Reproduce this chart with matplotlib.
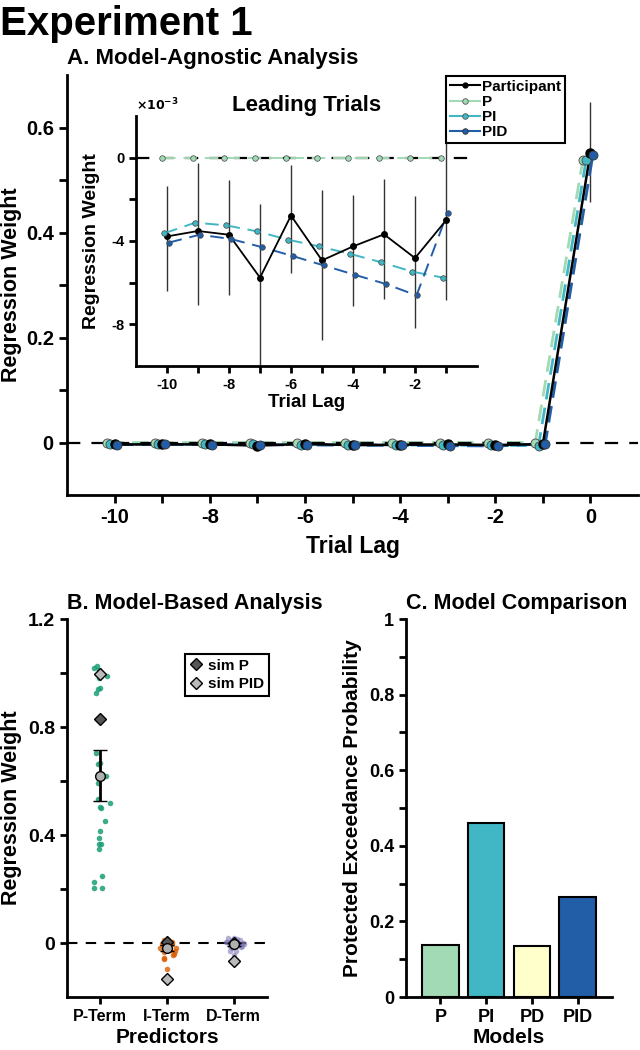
import numpy as np
import matplotlib.pyplot as plt
from matplotlib.lines import Line2D

plt.rcParams['font.family'] = ['Liberation Sans', 'DejaVu Sans']
plt.rcParams['font.weight'] = 'bold'
plt.rcParams['axes.labelweight'] = 'bold'
plt.rcParams['axes.titleweight'] = 'bold'
plt.rcParams['axes.linewidth'] = 2
plt.rcParams['xtick.major.width'] = 2
plt.rcParams['ytick.major.width'] = 2

# ---- data: panel A (leading trials in units of 1e-3, lag 0 in raw units)
lags = np.arange(-10, 1)
part_lead = [-3.78, -3.52, -3.70, -5.76, -2.78, -4.93, -4.26, -3.68, -4.82, -3.01]
part_hi_lead = [-1.38, -0.26, -1.09, -2.21, -0.37, -1.54, -1.81, -1.01, -1.86, 0.70]
part_lo_lead = [-6.42, -7.09, -6.61, -10.5, -5.54, -8.74, -7.12, -6.78, -8.16, -6.85]
p_lead = [0.0, 0.0, 0.0, 0.0, 0.0, 0.0, 0.0, 0.0, 0.0, 0.0]
pi_lead = [-3.63, -3.12, -3.25, -3.54, -3.94, -4.26, -4.62, -5.02, -5.47, -5.76]
pid_lead = [-4.08, -3.70, -3.90, -4.29, -4.72, -5.17, -5.62, -6.06, -6.61, -2.64]
part_lag0, part_lag0_lo, part_lag0_hi = 0.552, 0.458, 0.648
p_lag0, pi_lag0, pid_lag0 = 0.538, 0.538, 0.547

# ---- data: panel B
predictors = ['P-Term', 'I-Term', 'D-Term']
pterm_w = [1.02, 1.025, 1.01, 0.99, 0.98, 0.945, 0.94, 0.927, 0.703, 0.668, 0.664,
           0.619, 0.594, 0.533, 0.518, 0.503, 0.50, 0.453, 0.416, 0.388, 0.367,
           0.367, 0.347, 0.248, 0.227, 0.202, 0.204]
pterm_dx = [-0.10, -0.05, -0.02, 0.10, -0.02, 0.0, -0.03, -0.07, -0.06, 0.0, -0.04,
            0.09, -0.04, -0.04, 0.14, -0.01, 0.01, 0.07, 0.0, -0.02, 0.01,
            -0.02, -0.02, 0.03, -0.09, -0.10, 0.02]
iterm_w = [0.010, 0.012, 0.003, -0.002, -0.020, -0.026, -0.032, -0.041, -0.061,
           -0.097, -0.009, -0.015, -0.017, -0.005, 0.006, -0.045, -0.030, -0.055]
iterm_dx = [-0.05, 0.02, 0.07, -0.08, 0.14, 0.05, -0.05, 0.10, -0.05,
            0.0, -0.03, 0.03, -0.10, 0.08, -0.02, 0.09, 0.12, -0.04]
dterm_w = [0.020, 0.018, 0.010, 0.005, 0.000, -0.005, -0.010, -0.015, -0.020,
           -0.028, 0.012, -0.002, -0.008, 0.015, -0.030, -0.045, 0.003, -0.012]
dterm_dx = [-0.08, 0.0, 0.10, -0.12, 0.14, 0.06, -0.06, 0.11, -0.02,
            0.04, -0.03, 0.16, 0.08, 0.05, -0.05, 0.0, -0.10, 0.12]
pred_mean = [0.62, -0.018, -0.005]
pred_sem = [0.095, 0.012, 0.006]
sim_p = [0.83, 0.004, 0.0]
sim_pid = [0.996, -0.132, -0.066]

# ---- data: panel C
models = ['P', 'PI', 'PD', 'PID']
pxp = [0.138, 0.46, 0.135, 0.265]

col_p, col_pi, col_pd, col_pid = '#a1dab4', '#41b6c4', '#ffffcc', '#225ea8'

W, H = 640, 1050
fig = plt.figure(figsize=(6.4, 10.5), dpi=100)


def rect(l, t, r, b):
    return [l / W, 1 - b / H, (r - l) / W, (b - t) / H]


def clean(ax):
    ax.spines['top'].set_visible(False)
    ax.spines['right'].set_visible(False)
    ax.tick_params(direction='out')


fig.text(0.0, 1 - 35 / H, 'Experiment 1', fontsize=29, fontweight='bold', va='baseline')

# ================= panel A =================
ax = fig.add_axes(rect(67, 75, 638, 495))
clean(ax)
scale = 1e-3
main_part = np.append(np.array(part_lead) * scale, part_lag0)
main_lo = np.append(np.array(part_lo_lead) * scale, part_lag0_lo)
main_hi = np.append(np.array(part_hi_lead) * scale, part_lag0_hi)
main_p = np.append(np.array(p_lead) * scale, p_lag0)
main_pi = np.append(np.array(pi_lead) * scale, pi_lag0)
main_pid = np.append(np.array(pid_lead) * scale, pid_lag0)

ax.vlines(lags, main_lo, main_hi, color='#333333', lw=1, zorder=2)
for vals, c, dx in [(main_p, col_p, -0.16), (main_pi, col_pi, -0.09), (main_pid, col_pid, 0.05)]:
    ax.plot(lags + dx, vals, color=c, lw=2, dashes=(6, 3), zorder=3)
ax.plot([-11, 1], [0, 0], color='k', lw=1.6, dashes=(6, 5), zorder=3.5)
ax.plot(lags, main_part, color='k', lw=1.8, zorder=4)
for vals, c, dx in [(main_p, col_p, -0.16), (main_pi, col_pi, -0.09)]:
    ax.plot(lags + dx, vals, 'o', ms=6.5, mfc=c, mec='#444444', mew=0.6, zorder=5)
ax.plot(lags, main_part, 'o', ms=6.5, mfc='k', mec='k', zorder=6)
ax.plot(lags + 0.05, main_pid, 'o', ms=6.5, mfc=col_pid, mec='#333333', mew=0.6, zorder=6)

ax.set_xlim(-11, 1)
ax.set_ylim(-0.1, 0.7)
ax.set_xticks(np.arange(-10, 1))
ax.set_xticklabels([str(v) if v % 2 == 0 else '' for v in range(-10, 1)])
ax.set_yticks([0.0, 0.1, 0.2, 0.3, 0.4, 0.5, 0.6])
ax.set_yticklabels(['0', '', '0.2', '', '0.4', '', '0.6'])
ax.tick_params(axis='both', labelsize=14.5, length=6)
ax.set_xlabel('Trial Lag', fontsize=16.5)
ax.set_ylabel('Regression Weight', fontsize=15.5)
ax.xaxis.set_label_coords(0.5, -0.095)
ax.yaxis.set_label_coords(-0.078, 0.5)
ax.set_title('A. Model-Agnostic Analysis', loc='left', fontsize=16, pad=8)

handles = [
    Line2D([], [], color='k', lw=1.5, marker='o', ms=3.5, mfc='k', mec='k'),
    Line2D([], [], color=col_p, lw=1.5, marker='o', ms=4, mfc=col_p, mec='#555555', mew=0.6),
    Line2D([], [], color=col_pi, lw=1.5, marker='o', ms=4, mfc=col_pi, mec='#555555', mew=0.6),
    Line2D([], [], color=col_pid, lw=1.5, marker='o', ms=4, mfc=col_pid, mec='#333333', mew=0.6),
]
leg = fig.legend(handles, ['Participant', 'P', 'PI', 'PID'], loc='upper left',
                 bbox_to_anchor=(446 / W, 1 - 76 / H), fontsize=11, frameon=True,
                 fancybox=False, edgecolor='k', framealpha=1, borderpad=0.25,
                 labelspacing=0.08, handlelength=2.0, handletextpad=0.1,
                 borderaxespad=0)
leg.get_frame().set_linewidth(1.5)

# ================= inset =================
ins = fig.add_axes(rect(136, 116, 477, 366))
clean(ins)
lead_lags = lags[:-1]
ins.vlines(lead_lags, part_lo_lead, part_hi_lead, color='#333333', lw=1, zorder=2)
ins.plot([-11, 0], [0, 0], color='k', lw=1.6, dashes=(6, 5), zorder=2.5)
for vals, c, dx in [(p_lead, col_p, -0.16), (pi_lead, col_pi, -0.09), (pid_lead, col_pid, 0.05)]:
    ins.plot(lead_lags + dx, vals, color=c, lw=1.4, dashes=(7, 4), zorder=3)
    ins.plot(lead_lags + dx, vals, 'o', ms=4, mfc=c, mec='#444444', mew=0.5, zorder=5)
ins.plot(lead_lags, part_lead, color='k', lw=1.3, marker='o', ms=4, zorder=4)
ins.set_xlim(-11, 0)
ins.set_ylim(-10, 2)
ins.set_xticks(np.arange(-10, 0))
ins.set_xticklabels([str(v) if v % 2 == 0 else '' for v in range(-10, 0)])
ins.set_yticks([-8, -6, -4, -2, 0])
ins.set_yticklabels(['-8', '', '-4', '', '0'])
ins.tick_params(axis='both', labelsize=10.5, length=5)
ins.set_xlabel('Trial Lag', fontsize=13.5)
ins.set_ylabel('Regression Weight', fontsize=14)
ins.xaxis.set_label_coords(0.5, -0.112)
ins.yaxis.set_label_coords(-0.106, 0.5)
ins.set_title('Leading Trials', fontsize=16, pad=3)
ins.text(0.0, 1.01, r'$\times10^{-3}$', transform=ins.transAxes, fontsize=9,
         fontweight='normal', ha='left', va='bottom')

# ================= panel B =================
bx = fig.add_axes(rect(67, 619, 267, 997))
clean(bx)
dark2 = ['#1b9e77', '#d95f02', '#7570b3']
for i, (w, dx) in enumerate([(pterm_w, pterm_dx), (iterm_w, iterm_dx), (dterm_w, dterm_dx)]):
    bx.scatter(np.array(dx) + i + 1, w, s=16, color=dark2[i], alpha=[0.85, 0.8, 0.55][i],
               linewidths=0, zorder=3)
bx.plot([0.5, 3.5], [0, 0], color='k', lw=1.5, dashes=(5, 4), zorder=2)
xpos = np.arange(1, 4)
bx.plot(xpos, sim_p, 'D', ms=6, mfc='#555555', mec='k', mew=1, zorder=4)
bx.plot(xpos, sim_pid, 'D', ms=6, mfc='#bbbbbb', mec='k', mew=1, zorder=4)
bx.errorbar(xpos, pred_mean, yerr=pred_sem, fmt='o', ms=7, mfc='#b0b0b0', mec='k',
            mew=1, ecolor='k', elinewidth=2, capsize=5, capthick=2, zorder=5)
bx.set_xlim(0.5, 3.5)
bx.set_ylim(-0.2, 1.2)
bx.set_xticks(xpos)
bx.set_xticklabels(predictors)
bx.set_yticks([0, 0.2, 0.4, 0.6, 0.8, 1.0, 1.2])
bx.set_yticklabels(['0', '', '0.4', '', '0.8', '', '1.2'])
bx.tick_params(axis='y', labelsize=14, length=5)
bx.tick_params(axis='x', labelsize=11.5, length=5)
bx.set_xlabel('Predictors', fontsize=15)
bx.set_ylabel('Regression Weight', fontsize=15.5)
bx.xaxis.set_label_coords(0.5, -0.083)
bx.yaxis.set_label_coords(-0.225, 0.5)
bx.set_title('B. Model-Based Analysis', loc='left', fontsize=15.5, pad=7)
bh = [Line2D([], [], ls='none', marker='D', ms=6, mfc='#555555', mec='k', mew=1),
      Line2D([], [], ls='none', marker='D', ms=6, mfc='#bbbbbb', mec='k', mew=1)]
bleg = bx.legend(bh, ['sim P', 'sim PID'], loc='upper left',
                 bbox_to_anchor=(185 / W, 1 - 654 / H), bbox_transform=fig.transFigure,
                 fontsize=11, fancybox=False, edgecolor='k', framealpha=1,
                 borderpad=0.3, labelspacing=0.3, handlelength=0.8,
                 handletextpad=0.4, borderaxespad=0)
bleg.get_frame().set_linewidth(1.5)

# ================= panel C =================
cx = fig.add_axes(rect(406, 619, 612, 997))
clean(cx)
cx.bar(np.arange(1, 5), pxp, width=0.8, color=[col_p, col_pi, col_pd, col_pid],
       edgecolor='k', linewidth=1.5)
cx.set_xlim(0.25, 4.75)
cx.set_ylim(0, 1)
cx.set_xticks(np.arange(1, 5))
cx.set_xticklabels(models)
cx.set_yticks(np.round(np.arange(0, 1.01, 0.1), 1))
cx.set_yticklabels(['0', '', '0.2', '', '0.4', '', '0.6', '', '0.8', '', '1'])
cx.tick_params(axis='both', labelsize=13, length=5)
cx.set_xlabel('Models', fontsize=15)
cx.set_ylabel('Protected Exceedance Probability', fontsize=15)
cx.xaxis.set_label_coords(0.5, -0.083)
cx.yaxis.set_label_coords(-0.214, 0.5)
cx.set_title('C. Model Comparison', loc='left', fontsize=15.5, pad=7)

fig.savefig('out.png', dpi=100)
